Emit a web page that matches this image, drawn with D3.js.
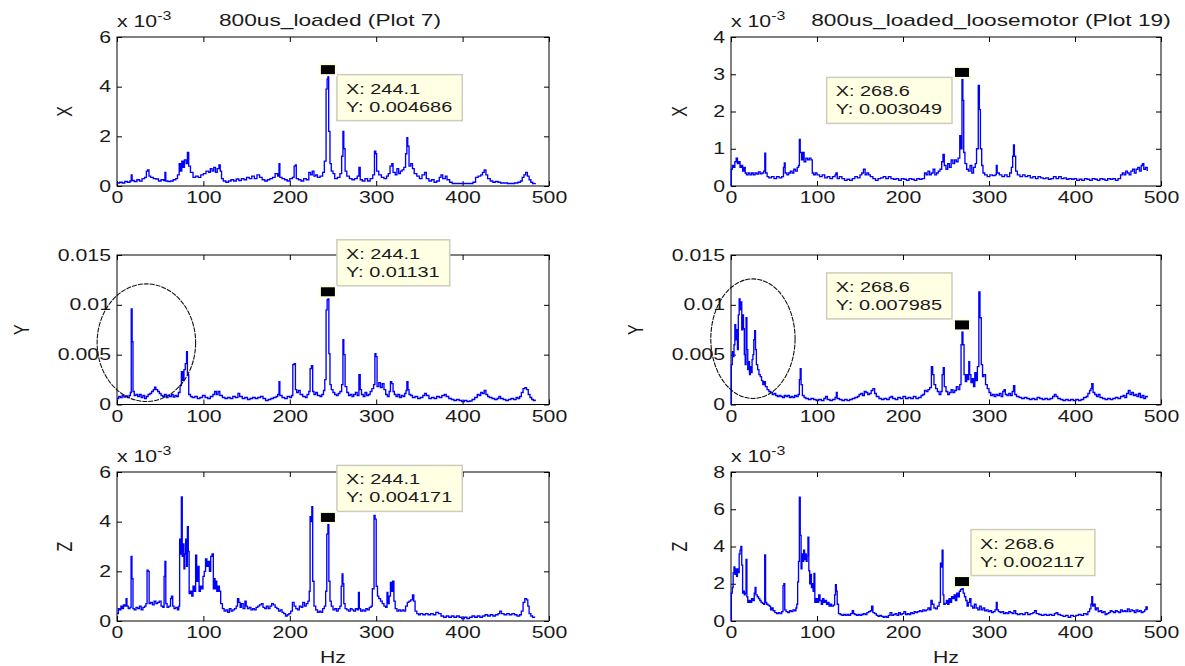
<!DOCTYPE html>
<html>
<head>
<meta charset="utf-8">
<script src="https://cdn.jsdelivr.net/npm/d3@7"></script>
<style>
  body { margin: 0; background: #fff; }
  text { font-family: "Liberation Sans", Arial, sans-serif; fill: #1a1a1a; }
</style>
</head>
<body>
<div id="chart"></div>
<script>
// spectra, [Hz, amplitude in 1e-3 units]
var xLoaded = [[0,0.12],[3,0.15],[6,0.12],[9,0.18],[12,0.15],[15,0.2],[16.5,0.45],[17.5,0.22],[20,0.18],[23,0.25],[26,0.2],[29,0.3],[32,0.35],[34,0.6],[35.5,0.65],[37,0.4],[39,0.35],[42,0.3],[45,0.28],[48,0.2],[51,0.25],[54,0.22],[55.5,0.55],[56.5,0.2],[59,0.18],[62,0.2],[65,0.25],[68,0.3],[70,0.45],[72,0.9],[73.5,0.6],[75,1.0],[76.5,0.75],[78,1.05],[80,0.9],[81.5,1.35],[83,0.8],[85,0.55],[88,0.35],[91,0.4],[94,0.35],[97,0.45],[100,0.5],[103,0.6],[106,0.55],[108,0.7],[110,0.6],[112,0.75],[114,0.55],[116,0.7],[118,0.85],[119.5,0.6],[121,0.3],[123,0.2],[126,0.15],[129,0.2],[132,0.25],[135,0.2],[138,0.28],[141,0.22],[144,0.3],[147,0.25],[150,0.35],[153,0.3],[156,0.4],[159,0.3],[162,0.45],[165,0.35],[168,0.25],[171,0.2],[174,0.25],[177,0.3],[180,0.35],[183,0.5],[186,0.4],[187.5,0.9],[188.5,0.35],[191,0.3],[194,0.25],[197,0.2],[200,0.3],[203,0.35],[205,0.8],[206.5,0.85],[207.5,0.3],[210,0.25],[213,0.2],[216,0.3],[219,0.25],[222,0.55],[224,0.45],[226,0.6],[228,0.4],[230,0.45],[232,0.35],[235,0.4],[238,0.55],[240,1.0],[242,3.9],[243.2,4.3],[244.1,4.686],[245,2.2],[246.5,0.9],[248,0.6],[250,0.5],[252,0.3],[255,0.35],[258,0.5],[260,1.2],[261.5,2.2],[262.5,1.5],[264,0.6],[266,0.4],[269,0.3],[272,0.25],[275,0.3],[278,0.4],[280,0.75],[281.5,0.25],[284,0.2],[287,0.3],[290,0.2],[293,0.3],[296,0.45],[298,1.4],[299.5,1.3],[300.5,0.6],[303,0.45],[306,0.35],[309,0.3],[312,0.4],[314,0.5],[316,0.8],[318,0.9],[319.5,0.55],[322,0.45],[324,0.7],[326,0.5],[328,0.6],[330,0.65],[332,0.75],[334,1.3],[335.5,1.95],[336.5,1.6],[338,0.8],[340,0.9],[342,0.7],[344,0.5],[347,0.4],[350,0.3],[353,0.45],[356,0.55],[358,0.3],[361,0.2],[364,0.25],[367,0.15],[370,0.2],[373,0.35],[375,0.45],[377,0.3],[380,0.4],[382,0.25],[385,0.15],[388,0.1],[392,0.1],[396,0.1],[400,0.1],[404,0.1],[408,0.1],[412,0.15],[415,0.35],[418,0.4],[421,0.45],[423,0.55],[425,0.65],[427,0.45],[429,0.3],[432,0.2],[435,0.15],[438,0.18],[441,0.15],[444,0.12],[448,0.12],[452,0.1],[456,0.1],[460,0.12],[464,0.15],[467,0.2],[469,0.35],[471,0.45],[473,0.55],[475,0.4],[477,0.25],[479,0.15],[481,0.1],[484,0.12]];

var xLoose = [[0,0],[0.3,0.45],[1.5,0.55],[3,0.5],[4.5,0.65],[6,0.75],[7.5,0.6],[9,0.65],[10.5,0.5],[12,0.55],[13.5,0.4],[15,0.5],[16.5,0.35],[18,0.3],[20,0.35],[22,0.3],[24,0.35],[26,0.3],[28,0.35],[30,0.32],[32,0.38],[34,0.33],[36,0.35],[38,0.4],[39.3,0.88],[40.3,0.35],[42,0.25],[44,0.22],[47,0.25],[50,0.2],[53,0.25],[56,0.22],[59,0.25],[61,0.5],[62,0.62],[63,0.35],[65,0.3],[67,0.35],[69,0.4],[71,0.35],[73,0.45],[75,0.4],[77,0.5],[78.5,0.55],[79.5,1.25],[80.5,0.9],[82,0.7],[83.5,0.9],[85,0.65],[87,0.75],[89,0.7],[91,0.75],[93,0.7],[94.5,0.35],[96,0.3],[98,0.35],[100,0.3],[103,0.25],[106,0.3],[109,0.22],[112,0.25],[115,0.2],[118,0.25],[121,0.3],[122,0.35],[123.5,0.2],[126,0.25],[129,0.2],[132,0.15],[135,0.18],[138,0.15],[141,0.2],[144,0.25],[147,0.22],[150,0.3],[152,0.35],[154,0.45],[156,0.3],[158,0.35],[160,0.3],[162,0.25],[165,0.2],[168,0.15],[171,0.2],[174,0.22],[177,0.25],[180,0.2],[183,0.25],[186,0.2],[189,0.18],[192,0.2],[195,0.15],[198,0.2],[201,0.18],[204,0.15],[207,0.2],[210,0.18],[213,0.15],[216,0.2],[219,0.18],[222,0.2],[225,0.35],[227,0.3],[229,0.4],[231,0.3],[233,0.35],[235,0.45],[237,0.3],[239,0.35],[241,0.4],[243,0.45],[245,0.65],[246.5,0.85],[248,0.55],[250,0.45],[252,0.6],[254,0.5],[256,0.7],[258,0.6],[260,0.7],[262,0.65],[264,0.75],[266,1.35],[267.5,1.0],[268.6,3.049],[269.6,2.3],[270.6,0.9],[272,0.6],[274,0.45],[276,0.4],[278,0.55],[280,0.35],[282,0.5],[284,0.6],[285.5,1.0],[287.5,2.7],[288.8,2.05],[290,1.0],[291.5,0.55],[293,0.35],[295,0.3],[298,0.25],[301,0.3],[304,0.28],[307,0.3],[308.5,0.55],[309.5,0.35],[312,0.3],[315,0.25],[318,0.3],[321,0.25],[324,0.35],[326,0.5],[327.5,0.8],[328.5,1.1],[329.5,0.8],[331,0.4],[333,0.3],[336,0.25],[339,0.3],[342,0.25],[345,0.28],[348,0.22],[351,0.25],[354,0.2],[357,0.25],[360,0.22],[363,0.2],[366,0.22],[369,0.18],[372,0.2],[375,0.25],[378,0.2],[381,0.25],[384,0.2],[387,0.22],[390,0.18],[393,0.2],[396,0.18],[399,0.2],[402,0.15],[405,0.18],[408,0.15],[411,0.2],[414,0.18],[417,0.15],[420,0.2],[423,0.18],[426,0.15],[429,0.2],[432,0.18],[435,0.15],[438,0.2],[441,0.18],[444,0.2],[447,0.15],[450,0.2],[453,0.3],[455,0.35],[457,0.3],[459,0.4],[461,0.35],[463,0.3],[465,0.4],[467,0.45],[469,0.35],[471,0.45],[473,0.5],[475,0.4],[477,0.55],[478.5,0.6],[480,0.45],[482,0.5],[484,0.4]];

var yLoaded = [[0,0.6],[2,0.8],[4,0.7],[6,0.9],[8,0.75],[10,0.85],[12,0.7],[14,0.9],[15.5,1.2],[16.5,9.6],[17.5,6.3],[18.5,1.3],[20,0.9],[22,1.0],[24,0.8],[26,1.0],[28,0.7],[30,0.9],[32,0.6],[34,0.8],[36,1.0],[38,1.1],[40,1.3],[42,1.5],[43.5,1.75],[45,1.5],[47,1.3],[49,1.1],[51,0.9],[53,0.8],[55,1.0],[57,0.7],[59,0.9],[61,0.8],[63,1.0],[65,0.75],[67,0.9],[69,0.8],[71,1.2],[73,1.9],[74.5,3.3],[76,2.4],[77.5,3.5],[79,4.1],[80.5,5.3],[81.5,3.0],[83,1.0],[85,0.8],[87,0.7],[90,0.8],[93,0.6],[96,0.7],[99,0.9],[102,0.7],[105,0.6],[108,0.8],[111,1.0],[113,1.3],[115,1.0],[117,1.3],[119,0.9],[122,0.7],[125,0.6],[128,0.7],[131,0.6],[134,0.8],[137,0.7],[140,1.1],[142,0.8],[145,0.6],[148,0.7],[151,0.5],[154,0.6],[157,0.7],[160,0.6],[163,0.7],[166,0.8],[169,0.6],[172,0.4],[175,0.5],[178,0.6],[181,0.7],[184,0.8],[186,1.0],[187.5,2.3],[188.5,0.9],[191,0.7],[194,0.6],[197,0.8],[200,0.7],[202,0.9],[203.5,4.0],[205,4.1],[206.5,1.5],[208,1.2],[210,1.4],[212,1.0],[215,0.8],[218,0.7],[220,1.0],[222,1.3],[223.5,3.6],[225,3.9],[226.5,1.3],[228,1.0],[230,1.2],[232,0.9],[235,0.8],[237,1.0],[239,1.4],[240.5,2.5],[242,9.5],[243.2,10.5],[244.1,11.31],[245.2,5.1],[246.5,2.0],[248,1.5],[250,1.2],[252,1.0],[254,0.9],[256,1.1],[258,1.3],[260,2.0],[261.5,6.5],[262.5,5.0],[264,1.8],[266,1.2],[268,0.9],[270,1.0],[272,0.8],[274,1.0],[276,1.2],[278,0.9],[280,3.0],[281.5,1.5],[283,1.0],[285,0.8],[287,1.2],[289,0.9],[291,1.0],[293,1.3],[295,1.6],[297,2.0],[298.5,5.1],[299.7,4.8],[301,1.8],[303,2.2],[305,1.7],[307,2.1],[309,1.5],[311,1.0],[313,0.8],[315,1.3],[316.5,2.3],[318,2.1],[319.5,1.3],[321,1.0],[323,0.8],[325,1.0],[327,0.7],[329,0.9],[331,0.8],[333,1.1],[334.5,1.4],[335.5,2.3],[336.8,1.5],[338,1.0],[340,0.9],[342,0.7],[345,0.8],[348,0.6],[351,0.7],[354,0.9],[356,1.1],[358,0.9],[361,0.6],[364,0.7],[367,0.6],[370,0.8],[373,0.7],[376,0.9],[379,1.0],[381,0.8],[384,0.6],[387,0.5],[390,0.4],[393,0.5],[396,0.4],[399,0.3],[402,0.4],[405,0.3],[408,0.35],[411,0.5],[414,0.7],[417,1.0],[419,0.9],[421,1.2],[423,1.1],[425,1.4],[427,1.0],[429,0.8],[431,0.7],[434,0.6],[437,0.5],[440,0.6],[442,0.8],[444,0.6],[447,0.5],[450,0.4],[453,0.5],[456,0.6],[459,0.5],[462,0.7],[464,0.6],[466,0.8],[468,1.2],[470,1.6],[472,1.7],[474,1.5],[476,1.0],[478,0.7],[480,0.5],[482,0.4],[484,0.5]];

var yLoose = [[0,0],[0.4,4.0],[1.5,5.3],[2.5,4.8],[3.5,6.0],[4.5,8.0],[5.5,6.5],[6.5,7.5],[7.5,5.5],[8.5,9.0],[9.5,10.6],[10.5,9.5],[11.5,10.3],[12.5,7.5],[13.5,9.0],[14.5,7.6],[15.5,5.0],[16.5,4.0],[17.5,8.7],[18.5,5.5],[19.5,3.5],[20.5,4.3],[21.5,3.0],[22.5,3.8],[23.5,3.2],[24.5,4.5],[25.5,5.0],[26.5,6.5],[27.5,7.4],[28.5,5.5],[29.5,4.0],[31,3.5],[32.5,3.0],[34,2.8],[35.5,2.4],[37,2.0],[38.5,2.3],[40,1.8],[42,1.5],[44,1.3],[46,1.2],[48,1.0],[50,1.1],[52,0.9],[54,0.8],[56,0.9],[58,0.8],[60,0.7],[62,0.9],[64,0.8],[66,0.9],[68,0.7],[70,0.8],[72,0.7],[74,0.9],[76,0.8],[78,1.0],[79.5,2.5],[80.5,3.6],[81.5,2.0],[83,0.9],[85,0.7],[87,0.6],[90,0.5],[93,0.6],[96,0.5],[99,0.4],[102,0.5],[105,0.4],[108,0.6],[110,0.8],[112,0.5],[115,0.4],[118,0.5],[121,0.7],[122.5,1.2],[123.5,0.6],[126,0.5],[129,0.4],[132,0.5],[135,0.4],[138,0.5],[141,0.6],[144,0.7],[147,0.8],[149,1.0],[151,1.1],[153,0.9],[155,1.3],[157,1.2],[159,1.0],[161,1.1],[163,1.4],[165,1.6],[167,1.1],[169,0.8],[172,0.6],[175,0.5],[178,0.6],[181,0.5],[184,0.7],[186,0.8],[188,0.6],[191,0.5],[194,0.7],[197,0.6],[200,0.8],[203,0.6],[206,0.7],[209,0.6],[212,0.8],[215,0.6],[218,0.7],[221,0.9],[223,1.0],[225,1.4],[227,1.3],[229,1.5],[231,1.7],[233,3.8],[234.5,3.0],[236,2.0],[238,1.6],[240,1.3],[242,1.0],[244,1.3],[245.5,3.0],[246.8,3.7],[248,1.8],[250,1.3],[252,1.0],[254,1.2],[256,1.5],[258,1.2],[260,1.4],[262,1.8],[264,1.5],[266,2.0],[267.5,6.0],[268.6,7.985],[269.7,6.0],[271,3.0],[272.5,2.3],[274,3.0],[275.5,2.5],[276.5,4.3],[277.5,3.0],[279,2.2],[280.5,2.6],[282,1.8],[283.5,3.2],[285,2.4],[286.5,3.8],[288.2,11.3],[289.5,8.7],[291,4.0],[292.5,2.8],[294,3.0],[296,2.0],[298,1.6],[300,1.2],[302,0.9],[304,1.0],[306,0.8],[308,1.0],[310,0.9],[312,1.1],[314,0.8],[316,1.3],[317.5,1.5],[319,1.0],[321,0.9],[323,1.1],[325,0.9],[327,1.3],[328.5,1.9],[330,1.0],[332,0.8],[335,0.7],[338,0.6],[341,0.7],[344,0.6],[347,0.5],[350,0.6],[353,0.5],[356,0.7],[359,0.6],[362,0.5],[365,0.6],[368,0.5],[371,0.6],[374,0.8],[376,1.0],[378,0.8],[380,0.6],[383,0.5],[386,0.4],[389,0.5],[392,0.4],[395,0.5],[398,0.4],[401,0.5],[404,0.4],[407,0.5],[410,0.7],[413,0.8],[415,1.1],[417,1.4],[418.5,1.6],[419.5,2.1],[421,1.2],[423,1.0],[425,0.8],[427,1.0],[429,0.7],[432,0.6],[435,0.5],[438,0.6],[441,0.5],[444,0.6],[447,0.7],[450,0.6],[453,0.8],[456,0.9],[458,0.7],[460,1.1],[462,1.4],[464,1.0],[466,1.2],[468,0.9],[470,1.0],[472,0.8],[474,1.1],[476,0.7],[478,0.9],[480,0.6],[482,0.8],[484,0.7]];

var zLoaded = [[0,0.3],[1.5,0.5],[3,0.45],[4.5,0.6],[6,0.5],[7.5,0.65],[9,0.6],[10.5,0.9],[11.5,0.6],[13,0.5],[15,0.55],[16.3,2.6],[17.3,1.7],[18.5,0.5],[20,0.45],[22,0.55],[24,0.5],[26,0.6],[28,0.45],[30,0.55],[32,0.6],[33.5,0.7],[34.8,2.05],[36,2.0],[37.2,0.7],[39,0.75],[41,0.65],[43,0.8],[45,0.7],[47,0.75],[49,0.8],[51,0.6],[53,0.55],[54.5,1.8],[55.5,2.4],[56.5,0.7],[58,0.55],[60,0.6],[62,0.9],[63,1.0],[64.5,0.6],[66,0.5],[68,0.55],[70,0.45],[71.5,0.6],[72.5,3.3],[73.5,2.7],[74.5,5.0],[75.5,2.6],[76.5,3.1],[77.5,2.1],[78.5,2.7],[79.5,3.3],[80.5,2.2],[81.5,3.8],[82.5,2.8],[83.5,1.1],[85,1.2],[86.5,1.0],[88,1.4],[89.5,1.2],[91,2.65],[92.2,1.6],[93.5,2.2],[95,1.2],[96.5,1.4],[98,1.3],[99.5,1.8],[101,2.0],[102.5,2.5],[104,2.2],[105.5,2.4],[107,2.0],[108.5,2.6],[110,2.7],[111.5,1.3],[112.5,1.7],[113.5,1.3],[114.5,1.6],[115.5,1.2],[117,1.4],[118.5,1.2],[120,0.7],[122,0.5],[124,0.4],[126,0.45],[128,0.35],[130,0.5],[132,0.4],[134,0.45],[136,0.5],[138,0.6],[139.5,0.9],[141,0.75],[142.5,0.55],[144,0.7],[146,0.5],[148,0.8],[149.5,0.6],[151,0.5],[153,0.55],[155,0.45],[157,0.5],[159,0.45],[161,0.55],[163,0.6],[165,0.65],[167,0.7],[169,0.55],[171,0.5],[173,0.6],[175,0.5],[177,0.6],[179,0.7],[181,0.65],[183,0.55],[185,0.5],[187,0.4],[189,0.45],[191,0.35],[193,0.3],[195,0.2],[197,0.25],[199,0.3],[201,0.4],[203,0.75],[205,0.6],[207,0.5],[209,0.45],[211,0.6],[213,0.55],[215,0.75],[217,0.6],[219,0.7],[221,0.8],[222.5,1.2],[223.5,4.2],[224.5,4.0],[225.5,4.6],[226.5,1.6],[228,0.6],[230,0.45],[232,0.35],[234,0.4],[236,0.35],[238,0.5],[240,0.6],[241.5,1.2],[242.8,3.5],[244.1,4.171],[245.2,1.6],[246.5,0.8],[248,0.6],[250,0.45],[252,0.5],[254,0.4],[256,0.5],[258,0.6],[259.5,1.4],[260.5,1.9],[261.5,1.5],[262.5,0.7],[264,0.5],[266,0.45],[268,0.4],[270,0.5],[272,0.45],[274,0.4],[276,0.5],[278,0.45],[279.5,1.15],[280.5,0.5],[282,0.4],[284,0.45],[286,0.4],[288,0.5],[290,0.45],[292,0.55],[294,0.6],[295.5,1.3],[297.5,4.25],[298.7,4.1],[300,1.4],[301.5,1.0],[303,0.9],[305,0.8],[307,0.7],[309,0.6],[311,0.55],[312.5,1.15],[313.5,0.7],[315,1.0],[316.5,1.55],[318,1.2],[319,1.6],[320.5,0.8],[322,0.5],[324,0.4],[326,0.45],[328,0.4],[330,0.45],[332,0.4],[334,0.6],[336,0.75],[338,0.8],[340,0.85],[342,1.05],[343.5,0.8],[345,0.4],[347,0.3],[349,0.25],[351,0.3],[354,0.25],[357,0.3],[360,0.25],[363,0.3],[366,0.25],[369,0.35],[372,0.3],[375,0.2],[378,0.15],[381,0.2],[384,0.15],[387,0.2],[390,0.15],[393,0.2],[396,0.15],[399,0.1],[402,0.15],[405,0.1],[408,0.15],[411,0.2],[414,0.15],[417,0.2],[420,0.15],[423,0.2],[426,0.25],[429,0.2],[432,0.25],[435,0.2],[438,0.25],[441,0.3],[443,0.4],[445,0.3],[448,0.25],[451,0.3],[454,0.25],[457,0.3],[460,0.25],[463,0.2],[466,0.25],[468,0.4],[470,0.75],[472,0.9],[474,0.85],[475.5,0.6],[477,0.3],[479,0.2],[481,0.15],[484,0.15]];

var zLoose = [[0,0],[0.4,1.5],[1.5,1.8],[2.5,2.6],[3.5,2.9],[4.5,2.5],[5.5,2.8],[6.5,2.4],[7.5,2.8],[8.5,2.6],[9.5,3.6],[10.5,3.8],[11.5,4.0],[12.5,3.0],[13.5,1.5],[14.5,1.6],[15.5,1.4],[16.5,1.5],[17.5,3.3],[18.5,1.3],[19.5,1.0],[21,1.1],[22.5,1.0],[24,1.2],[25.5,1.1],[27,1.5],[28,1.8],[29,1.4],[30.5,1.3],[32,1.2],[33.5,1.1],[35,1.0],[36.5,0.95],[38,0.9],[39.2,3.55],[40.2,1.0],[41.5,0.9],[43,0.85],[44.5,0.8],[46,0.6],[47.5,0.7],[49,0.55],[51,0.45],[53,0.4],[55,0.45],[57,0.4],[59,0.5],[60.5,1.9],[61.5,2.0],[62.5,0.6],[64,0.5],[66,0.45],[68,0.55],[70,0.5],[72,0.6],[74,0.55],[75.5,0.7],[76.5,0.9],[77.5,2.1],[78.5,3.2],[79.5,6.65],[80.5,4.6],[81.5,2.8],[82.5,3.6],[83.5,3.2],[84.5,3.8],[85.5,3.3],[86.5,3.6],[87.5,3.2],[88.5,3.5],[89.5,4.5],[90.5,2.7],[91.5,2.0],[92.5,2.5],[93.5,1.8],[94.5,2.0],[95.5,1.6],[96.5,2.55],[97.5,1.0],[99,1.2],[100.5,1.0],[102,1.4],[103.5,1.1],[105,0.9],[106.5,1.2],[108,1.0],[109.5,1.1],[111,0.9],[112.5,1.0],[114,0.8],[115.5,0.9],[117,0.8],[119,0.85],[120.5,1.4],[121.5,1.95],[122.5,1.6],[123.5,0.9],[125,0.4],[127,0.35],[129,0.3],[131,0.35],[133,0.3],[135,0.35],[137,0.3],[139,0.4],[141,0.55],[142.5,0.4],[144,0.35],[146,0.3],[148,0.35],[150,0.3],[152,0.35],[154,0.4],[156,0.35],[158,0.45],[160,0.5],[162,0.55],[163.5,0.8],[165,0.45],[167,0.4],[169,0.3],[171,0.25],[173,0.3],[175,0.25],[177,0.2],[179,0.25],[181,0.2],[183,0.3],[185,0.45],[187,0.3],[189,0.35],[191,0.4],[193,0.3],[195,0.45],[197,0.35],[199,0.4],[201,0.5],[203,0.35],[205,0.4],[207,0.35],[209,0.45],[211,0.4],[213,0.5],[215,0.45],[217,0.5],[219,0.55],[221,0.5],[223,0.6],[225,0.55],[227,0.6],[229,0.7],[231,0.6],[232.5,1.1],[234,0.9],[236,0.7],[238,0.65],[240,0.8],[242,1.0],[243.5,3.1],[244.5,2.9],[245.5,3.8],[246.5,1.4],[247.5,0.9],[249,0.95],[250.5,1.1],[252,0.9],[253.5,1.2],[255,1.0],[256.5,1.3],[258,1.2],[259.5,1.4],[261,1.1],[262.5,1.5],[264,1.3],[265.5,1.6],[267,1.7],[268.6,2.117],[270,1.5],[271.5,1.3],[273,1.1],[274.5,0.8],[276,1.0],[277.5,1.2],[279,0.8],[281,0.7],[283,0.9],[285,0.7],[287,0.6],[289,0.8],[291,0.6],[293,0.7],[295,0.55],[297,0.6],[299,0.5],[301,0.55],[303,0.45],[305,0.5],[307,0.6],[308.5,1.0],[309.5,0.6],[311,0.5],[313,0.45],[315,0.5],[317,0.4],[319,0.45],[321,0.4],[323,0.5],[325,0.45],[327,0.4],[329,0.55],[331,0.4],[333,0.35],[336,0.4],[339,0.35],[342,0.45],[345,0.35],[348,0.4],[351,0.45],[353,0.55],[355,0.4],[358,0.35],[361,0.3],[364,0.35],[367,0.3],[370,0.35],[373,0.3],[376,0.4],[378,0.45],[380,0.35],[383,0.3],[386,0.25],[389,0.3],[392,0.2],[395,0.3],[398,0.25],[401,0.3],[404,0.35],[407,0.3],[410,0.4],[413,0.35],[415,0.5],[417,0.65],[418.5,0.9],[419.5,1.3],[420.5,0.8],[422,0.9],[423.5,0.6],[425,0.7],[427,0.5],[429,0.55],[431,0.45],[433,0.5],[435,0.35],[437,0.4],[439,0.45],[441,0.55],[443,0.5],[445,0.45],[447,0.55],[449,0.5],[451,0.45],[453,0.6],[455,0.5],[457,0.55],[459,0.5],[461,0.65],[463,0.5],[465,0.6],[467,0.55],[469,0.45],[471,0.6],[473,0.5],[475,0.55],[477,0.45],[479,0.5],[481,0.6],[482.5,0.75],[484,0.6]];

var titles = ["800us_loaded (Plot 7)", "800us_loaded_loosemotor (Plot 19)"];
var axisNames = ["X", "Y", "Z"];
var hzTicks = [0, 100, 200, 300, 400, 500];
var yMax = [[6, 4], [15, 15], [6, 8]];
var yTicks = [[[0, 2, 4, 6], [0, 1, 2, 3, 4]], [[0, 5, 10, 15], [0, 5, 10, 15]], [[0, 2, 4, 6], [0, 2, 4, 6, 8]]];
// data tips: Hz, value (real units)
var tipHz = [[244.1, 268.6], [244.1, 268.6], [244.1, 268.6]];
var tipVal = [[0.004686, 0.003049], [0.01131, 0.007985], [0.004171, 0.002117]];
// circled regions in the Y row: centre Hz, centre value, radius Hz, radius value (1e-3)
var rings = [[34, 6.2, 57, 5.9], [25.5, 6.6, 49, 6.0]];

var series = [[xLoaded, xLoose], [yLoaded, yLoose], [zLoaded, zLoose]];

var width = 1185, height = 666, SX = 1.33, TSX = 1.42;
var cols = [{ x0: 117, x1: 549, title: 330, lab: 51 }, { x0: 731, x1: 1161, title: 991, lab: 50 }];
var rows = [{ y0: 37, y1: 186 }, { y0: 255, y1: 404.5 }, { y0: 472, y1: 621 }];
var tipSide = [["br", "bl"], ["tr", "tl"], ["tr", "tr"]];

var svg = d3.select("#chart").append("svg").attr("width", width).attr("height", height);
svg.append("rect").attr("width", width).attr("height", height).attr("fill", "#fff");

function stext(g, x, y, str, size, anchor, sx) {
  return g.append("text").attr("transform", "translate(" + x + "," + y + ") scale(" + (sx || SX) + ",1)")
    .attr("text-anchor", anchor || "start").style("font-size", size + "px").text(str);
}

rows.forEach(function (row, r) {
  cols.forEach(function (col, c) {
    var g = svg.append("g");
    var x = d3.scaleLinear().domain([0, 500]).range([col.x0, col.x1]);
    var y = d3.scaleLinear().domain([0, yMax[r][c]]).range([row.y1, row.y0]);

    // axes, MATLAB style ticks inside the box
    var fmt = r == 1 ? function (d) { return d == 0 ? "0" : String(d / 1000); } : function (d) { return d; };
    var ax = g.append("g").attr("transform", "translate(0," + row.y1 + ")")
      .call(d3.axisBottom(x).tickValues(hzTicks).tickSize(-5).tickPadding(6));
    var ay = g.append("g").attr("transform", "translate(" + col.x0 + ",0)")
      .call(d3.axisLeft(y).tickValues(yTicks[r][c]).tickFormat(fmt).tickSize(-5).tickPadding(5));
    g.append("g").attr("transform", "translate(0," + row.y0 + ")")
      .call(d3.axisTop(x).tickValues(hzTicks).tickSize(-5).tickFormat(""));
    g.append("g").attr("transform", "translate(" + col.x1 + ",0)")
      .call(d3.axisRight(y).tickValues(yTicks[r][c]).tickSize(-5).tickFormat(""));
    g.selectAll(".domain").remove();
    g.selectAll(".tick line").attr("stroke", "#000");
    g.selectAll(".tick text").style("font-size", "16px").style("font-family", "'Liberation Sans', Arial, sans-serif").attr("fill", "#1a1a1a");
    ax.selectAll(".tick text").attr("transform", "scale(" + SX + ",1)");
    ay.selectAll(".tick text").attr("transform", "scale(" + SX + ",1)").attr("x", -6 / SX);

    g.append("rect").attr("x", col.x0).attr("y", row.y0).attr("width", col.x1 - col.x0).attr("height", row.y1 - row.y0)
      .attr("fill", "none").attr("stroke", "#000").attr("stroke-width", 1);

    var line = d3.line().x(function (d) { return x(d[0]); }).y(function (d) { return y(d[1]); }).curve(d3.curveStepAfter);
    g.append("path").datum(series[r][c]).attr("fill", "none").attr("stroke", "#0000ff").attr("stroke-width", 1.35).attr("d", line);

    // axis label
    var lx = r == 1 ? col.x0 - 94 : col.x0 - col.lab;
    g.append("text").attr("transform", "translate(" + (lx + 6) + "," + ((row.y0 + row.y1) / 2) + ") scale(" + SX + ",1) rotate(-90)")
      .attr("text-anchor", "middle").style("font-size", "16px").text(axisNames[r]);

    if (r != 1) {
      var e = stext(g, col.x0, row.y0 - 10, "x 10", 16);
      e.append("tspan").attr("dy", -7).style("font-size", "12px").text("-3");
    }
    if (r == 0) stext(g, col.title, 26, titles[c], 16, "middle", TSX);
    if (r == 2) stext(g, (col.x0 + col.x1) / 2, 663, "Hz", 16, "middle");

    if (r == 1) {
      var k = rings[c];
      g.append("ellipse").attr("cx", x(k[0])).attr("cy", y(k[1]))
        .attr("rx", x(k[0] + k[2]) - x(k[0])).attr("ry", y(0) - y(k[3]))
        .attr("fill", "none").attr("stroke", "#111").attr("stroke-width", 1.1).attr("stroke-dasharray", "5,1");
    }

    // data tip
    var px = x(tipHz[r][c]), py = y(tipVal[r][c] * 1000);
    var lines = ["X: " + tipHz[r][c], "Y: " + tipVal[r][c]];
    var tg = g.append("g");
    var box = tg.append("rect").attr("fill", "#ffffe4").attr("stroke", "#cdcdbd").attr("stroke-width", 1.5);
    var t1 = stext(tg, 0, 0, lines[0], 15);
    var t2 = stext(tg, 0, 0, lines[1], 15);
    var tw = Math.max(t1.node().getComputedTextLength(), t2.node().getComputedTextLength()) * SX;
    var bw = tw + 19, bh = 46;
    var side = tipSide[r][c];
    var bx = side[1] == "r" ? px + 9 : px - 10 - bw;
    var by = side[0] == "b" ? py + 5 : py - 6 - bh;
    box.attr("x", bx).attr("y", by).attr("width", bw).attr("height", bh);
    t1.attr("transform", "translate(" + (bx + 9) + "," + (by + 19) + ") scale(" + SX + ",1)");
    t2.attr("transform", "translate(" + (bx + 9) + "," + (by + 37) + ") scale(" + SX + ",1)");
    tg.append("rect").attr("x", px - 9).attr("y", py - 6.5).attr("width", 18).attr("height", 13).attr("fill", "#ffffe4");
    tg.append("rect").attr("x", px - 7).attr("y", py - 4.5).attr("width", 14).attr("height", 9).attr("fill", "#000");
  });
});
</script>
</body>
</html>
